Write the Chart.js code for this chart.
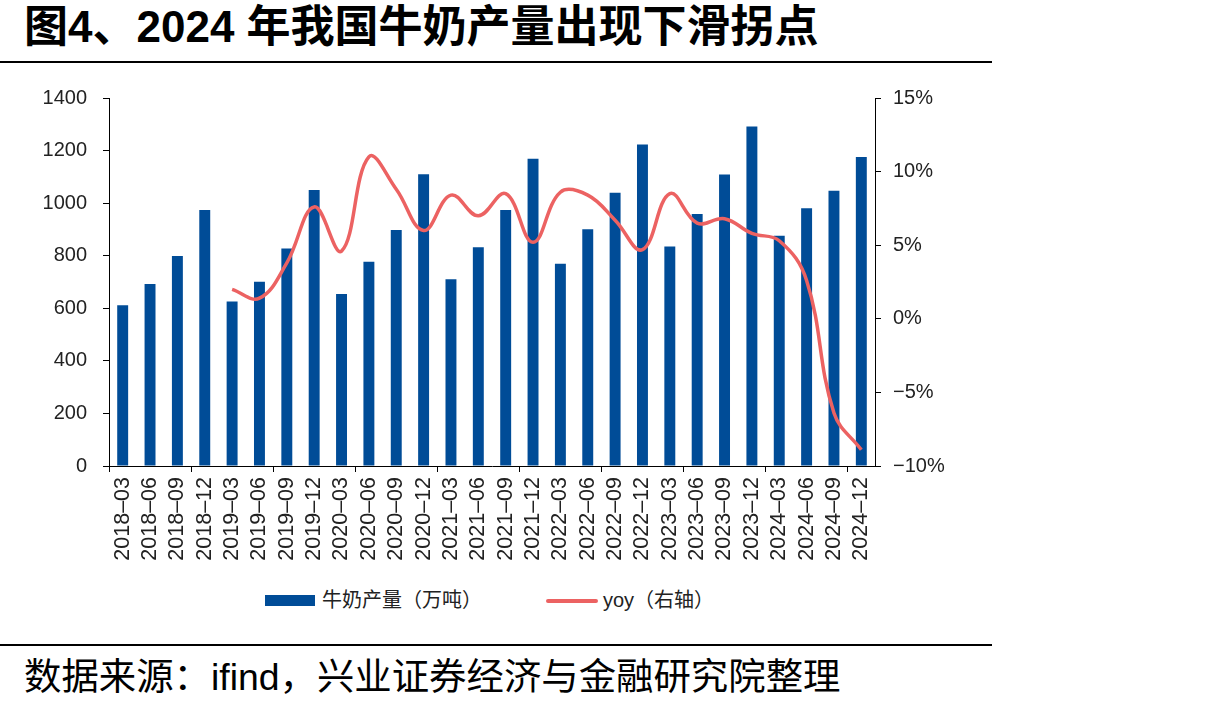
<!DOCTYPE html>
<html>
<head>
<meta charset="utf-8">
<script src="https://cdn.jsdelivr.net/npm/chart.js@4.4.1/dist/chart.umd.min.js"></script>
<style>
  body { margin: 0; background: #fff; width: 1205px; height: 710px; overflow: hidden; position: relative;
         font-family: "Liberation Sans", Arial, "Noto Sans CJK SC", sans-serif; color: #000; }
  #title { position: absolute; left: 24px; top: 3px; font-size: 44px; font-weight: bold; line-height: 48px; white-space: nowrap; }
  .rule { position: absolute; left: 0; width: 992px; height: 2px; background: #000; }
  #chartBox { position: absolute; left: 0; top: 70px; width: 1000px; height: 500px; }
  .lg { position: absolute; top: 588px; height: 24px; font-size: 20px; line-height: 24px; white-space: nowrap; color: #222; }
  .lg i { display: inline-block; vertical-align: middle; margin-right: 7px; position: relative; top: -1px; }
  #source { position: absolute; left: 24px; top: 655px; font-size: 37.4px; line-height: 44px; white-space: nowrap; }
</style>
</head>
<body>
<div id="title">图4、2024 年我国牛奶产量出现下滑拐点</div>
<div class="rule" style="top:61px"></div>
<div id="chartBox"><canvas id="chart" width="1000" height="500"></canvas></div>
<div class="lg" id="lg0" style="left:265px"></div>
<div class="lg" id="lg1" style="left:546px"></div>
<div class="rule" style="top:644px"></div>
<div id="source">数据来源：ifind，兴业证券经济与金融研究院整理</div>

<script>
// 数据
const categories = ['2018-03','2018-06','2018-09','2018-12','2019-03','2019-06','2019-09','2019-12',
  '2020-03','2020-06','2020-09','2020-12','2021-03','2021-06','2021-09','2021-12',
  '2022-03','2022-06','2022-09','2022-12','2023-03','2023-06','2023-09','2023-12',
  '2024-03','2024-06','2024-09','2024-12'];
const milkOutput = [612, 692, 799, 974, 626, 701, 827, 1050, 654, 777, 898, 1110, 710, 832, 974, 1169,
  769, 901, 1040, 1223, 835, 959, 1109, 1292, 876, 981, 1047, 1176];
const yoyPct = [null, null, null, null, 2.0, 1.4, 3.8, 7.6, 4.6, 11.0, 8.8, 6.0, 8.4, 7.0, 8.5, 5.2,
  8.6, 8.4, 6.7, 4.7, 8.5, 6.5, 6.8, 5.8, 5.3, 2.6, -6.4, -8.9];
const leftTicks = [0, 200, 400, 600, 800, 1000, 1200, 1400];
const rightTicks = [-10, -5, 0, 5, 10, 15];

const BLUE = '#004c97';
const RED = '#ec6262';

Chart.defaults.font.family = '"Liberation Sans", Arial, sans-serif';
Chart.defaults.font.size = 20;
Chart.defaults.color = '#222';

const ctx = document.getElementById('chart').getContext('2d');
const chart = new Chart(ctx, {
  data: {
    labels: categories,
    datasets: [
      { type: 'line', label: 'yoy（右轴）', data: yoyPct, yAxisID: 'y1', order: 0,
        borderColor: RED, borderWidth: 3.5, pointRadius: 0, tension: 0.4, fill: false },
      { type: 'bar', label: '牛奶产量（万吨）', data: milkOutput, yAxisID: 'y', order: 1,
        backgroundColor: BLUE, barPercentage: 0.4, categoryPercentage: 1 }
    ]
  },
  options: {
    responsive: false,
    animation: false,
    layout: { padding: { top: 8, left: 0, right: 0, bottom: 0 } },
    plugins: { legend: { display: false }, tooltip: { enabled: false } },
    scales: {
      x: {
        afterFit: s => { s.height = 104; },
        border: { display: true, color: '#000', width: 1 },
        grid: { drawOnChartArea: false, drawTicks: true, tickLength: 6,
                color: c => (c.index !== undefined && c.index % 3 === 0) ? '#000' : 'rgba(0,0,0,0)' },
        ticks: { autoSkip: false, maxRotation: 90, minRotation: 90, padding: 5, font: { size: 21.5 },
                 callback: (v, i) => categories[i].replace('-', '–') }
      },
      y: {
        position: 'left', min: 0, max: 1400,
        afterFit: s => { s.width = 109; },
        afterBuildTicks: s => { s.ticks = leftTicks.map(v => ({ value: v })); },
        border: { display: true, color: '#000', width: 1 },
        grid: { drawOnChartArea: false, color: '#000', tickLength: 6 },
        ticks: { padding: 16, callback: v => String(v) }
      },
      y1: {
        position: 'right', min: -10, max: 15,
        afterFit: s => { s.width = 125; },
        afterBuildTicks: s => { s.ticks = rightTicks.map(v => ({ value: v })); },
        border: { display: true, color: '#000', width: 1 },
        grid: { drawOnChartArea: false, color: '#000', tickLength: 6 },
        ticks: { padding: 12, callback: v => (v < 0 ? '−' + Math.abs(v) : v) + '%' }
      }
    }
  }
});

// 图例
const bars = chart.data.datasets[1], line = chart.data.datasets[0];
document.getElementById('lg0').innerHTML =
  '<i style="width:50px;height:11px;background:' + bars.backgroundColor + '"></i>' + bars.label;
document.getElementById('lg1').innerHTML =
  '<i style="width:52px;height:4px;border-radius:2px;background:' + line.borderColor + ';margin-right:5px"></i>' + line.label;
</script>
</body>
</html>
